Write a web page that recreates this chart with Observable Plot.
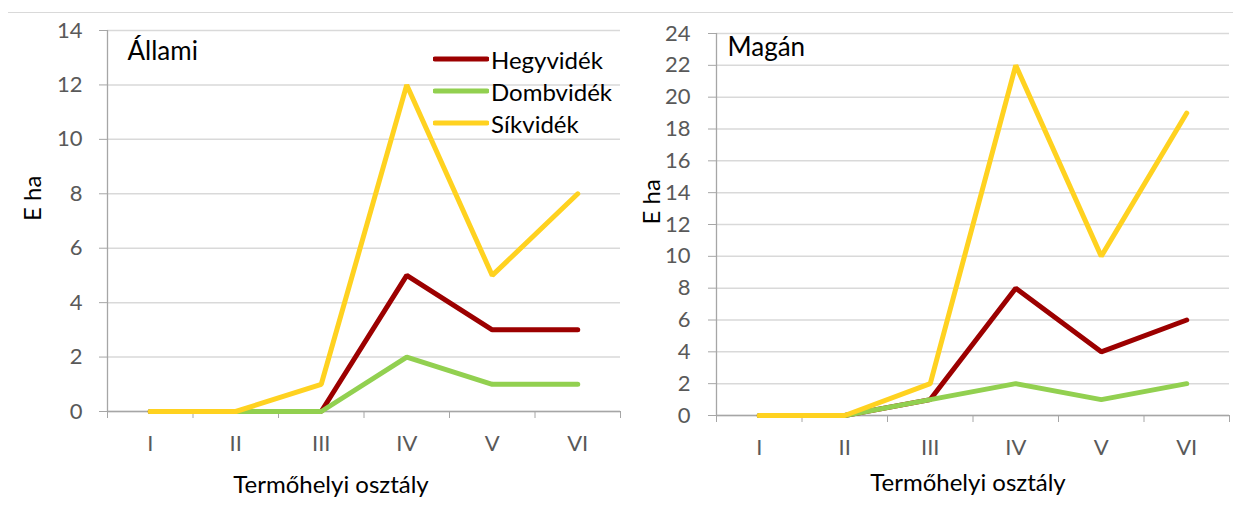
<!DOCTYPE html>
<html>
<head>
<meta charset="utf-8">
<script src="https://cdn.jsdelivr.net/npm/d3@7"></script>
<script src="https://cdn.jsdelivr.net/npm/@observablehq/plot@0.6"></script>
<style>
  html, body { margin: 0; padding: 0; background: #fff; }
  #wrap { position: relative; width: 1241px; height: 505px; font-family: Lato, "Open Sans", sans-serif; overflow: hidden; }
  #topline { position: absolute; left: 8px; top: 12px; width: 1225px; height: 0; border-top: 1px solid #d9d9d9; }
  .chart { position: absolute; top: 0; }
  .legend { position: absolute; left: 433px; top: 43px; font-size: 24px; color: #000; }
  .legend .row { display: flex; align-items: center; height: 32px; }
  .legend svg { margin-right: 2px; }
</style>
</head>
<body>
<div id="wrap">
  <div id="topline"></div>
  <div id="left" class="chart" style="left:0px"></div>
  <div id="right" class="chart" style="left:620px"></div>
  <div id="legend" class="legend"></div>
</div>
<script>
// ---- data ----
const categories = ["I", "II", "III", "IV", "V", "VI"];
const seriesNames = ["Hegyvidék", "Dombvidék", "Síkvidék"];
const seriesColors = ["#9c0000", "#92d050", "#ffd220"];

const allamiHegyvidek = [0, 0, 0, 5, 3, 3];
const allamiDombvidek = [0, 0, 0, 2, 1, 1];
const allamiSikvidek  = [0, 0, 1, 12, 5, 8];

const maganHegyvidek = [0, 0, 1, 8, 4, 6];
const maganDombvidek = [0, 0, 1, 2, 1, 2];
const maganSikvidek  = [0, 0, 2, 22, 10, 19];

const allamiYTicks = [0, 2, 4, 6, 8, 10, 12, 14];
const maganYTicks = [0, 2, 4, 6, 8, 10, 12, 14, 16, 18, 20, 22, 24];

const chartTitles = ["Állami", "Magán"];
const yTitle = "E ha";
const xTitle = "Termőhelyi osztály";

// ---- build ----
function rowsFor(seriesValues) {
  const rows = [];
  seriesValues.forEach((vals, s) => {
    vals.forEach((v, i) => rows.push({series: seriesNames[s], pos: i + 0.5, value: v}));
  });
  return rows;
}

function makeChart(o) {
  const rows = rowsFor(o.values);
  const boundaries = d3.range(categories.length + 1);
  const centers = categories.map((c, i) => i + 0.5);
  const yMax = o.yTicks[o.yTicks.length - 1];
  return Plot.plot({
    width: o.width,
    height: 505,
    marginLeft: o.marginLeft,
    marginRight: o.marginRight,
    marginTop: o.marginTop,
    marginBottom: o.marginBottom,
    style: {fontFamily: "Lato, 'Open Sans', sans-serif", background: "transparent", overflow: "visible"},
    x: {domain: [0, categories.length]},
    y: {domain: [0, yMax]},
    color: {domain: seriesNames, range: seriesColors},
    marks: [
      Plot.gridY(o.yTicks, {stroke: "#d9d9d9", strokeOpacity: 1, strokeWidth: 1.5}),
      Plot.ruleX([0], {stroke: "#a6a6a6", strokeWidth: 1.3}),
      Plot.ruleY([0], {stroke: "#a6a6a6", strokeWidth: 1.3}),
      Plot.axisY(o.yTicks, {tickSize: 8, tickPadding: o.yTickPadding, stroke: "#a6a6a6", fill: "#595959", fontSize: 22, label: null, tickFormat: d => String(d)}),
      Plot.axisX(boundaries, {tickSize: 7, stroke: "#a6a6a6", tickFormat: () => "", label: null}),
      Plot.axisX(centers, {tickSize: 0, tickPadding: 24, fill: "#595959", fontSize: 22, label: null, tickFormat: d => categories[Math.floor(d)]}),
      Plot.line(rows, {x: "pos", y: "value", z: "series", stroke: "series", strokeWidth: 5, strokeLinejoin: "miter", strokeLinecap: "round"}),
      Plot.text([o.title], {frameAnchor: "top-left", textAnchor: "start", lineAnchor: "middle", dx: o.titleDx, dy: o.titleDy, fontSize: 26, fill: "#000"}),
      Plot.text([xTitle], {frameAnchor: "bottom", lineAnchor: "middle", dx: o.xTitleDx, dy: o.xTitleDy, fontSize: 24, fill: "#000"}),
      Plot.text([yTitle], {frameAnchor: "left", lineAnchor: "middle", rotate: -90, dx: o.yTitleDx, dy: o.yTitleDy, fontSize: 24, fill: "#000"})
    ]
  });
}

document.getElementById("left").append(makeChart({
  title: chartTitles[0],
  values: [allamiHegyvidek, allamiDombvidek, allamiSikvidek],
  yTicks: allamiYTicks,
  width: 620, marginLeft: 107, marginRight: 0, marginTop: 30, marginBottom: 94,
  yTickPadding: 17,
  titleDx: 20, titleDy: 21,
  xTitleDx: -33, xTitleDy: 74,
  yTitleDx: -74, yTitleDy: 0
}));

document.getElementById("right").append(makeChart({
  title: chartTitles[1],
  values: [maganHegyvidek, maganDombvidek, maganSikvidek],
  yTicks: maganYTicks,
  width: 621, marginLeft: 96, marginRight: 12, marginTop: 33, marginBottom: 90,
  yTickPadding: 18,
  titleDx: 11, titleDy: 14,
  xTitleDx: -5, xTitleDy: 68,
  yTitleDx: -64, yTitleDy: 0
}));

// legend (HTML)
const legend = document.getElementById("legend");
seriesNames.forEach((name, i) => {
  const row = document.createElement("div");
  row.className = "row";
  row.innerHTML = `<svg width="56" height="10"><line x1="2" y1="5" x2="54" y2="5" stroke="${seriesColors[i]}" stroke-width="5" stroke-linecap="round"/></svg><span>${name}</span>`;
  legend.append(row);
});
</script>
</body>
</html>
